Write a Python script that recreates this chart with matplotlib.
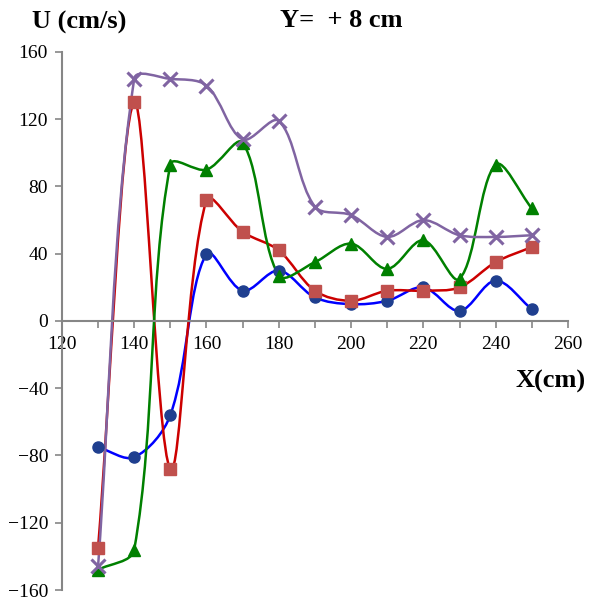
import numpy as np
import matplotlib
matplotlib.use("Agg")
import matplotlib.pyplot as plt
from matplotlib.path import Path
from matplotlib.patches import PathPatch

x = [130, 140, 150, 160, 170, 180, 190, 200, 210, 220, 230, 240, 250]
blue = [-75, -81, -56, 40, 18, 30, 14, 10, 12, 20, 6, 24, 7]
red = [-135, 130, -88, 72, 53, 42, 18, 12, 18, 18, 20, 35, 44]
green = [-148, -136, 93, 90, 106, 27, 35, 46, 31, 48, 25, 93, 67]
purple = [-146, 144, 144, 140, 108, 119, 68, 63, 50, 60, 51, 50, 51]

x_ticks = [120, 140, 160, 180, 200, 220, 240, 260]
y_ticks = [-160, -120, -80, -40, 0, 40, 80, 120, 160]

serif = ["Liberation Serif", "DejaVu Serif"]
plt.rcParams['font.family'] = serif

fig = plt.figure(figsize=(6.01, 6.01), dpi=100)
ax = fig.add_axes([0.103, 0.0183, 0.842, 0.8952])
ax.set_xlim(120, 260)
ax.set_ylim(-160, 160)

# pixel scale of the axes (so the smoothing behaves like a screen-space spline)
SX = 506.0 / 140.0
SY = 538.0 / 320.0


def smooth_path(xs, ys):
    pts = np.column_stack([np.asarray(xs, float) * SX, np.asarray(ys, float) * SY])
    n = len(pts)
    verts = [pts[0]]
    codes = [Path.MOVETO]
    ctrl_after = [None] * n
    ctrl_before = [None] * n
    for i in range(n):
        a = pts[i - 1] if i > 0 else pts[i]
        b = pts[i + 1] if i < n - 1 else pts[i]
        d_prev = np.hypot(*(pts[i] - a))
        d_next = np.hypot(*(b - pts[i]))
        tot = d_prev + d_next
        t = (b - a) / 3.0
        ctrl_after[i] = pts[i] + t * (d_next / tot if tot > 0 else 0)
        ctrl_before[i] = pts[i] - t * (d_prev / tot if tot > 0 else 0)
    for i in range(n - 1):
        verts += [ctrl_after[i], ctrl_before[i + 1], pts[i + 1]]
        codes += [Path.CURVE4] * 3
    v = np.array(verts)
    v[:, 0] /= SX
    v[:, 1] /= SY
    return Path(v, codes)


series = [
    (blue, '#0000FF', 'o', '#1F3F8F', 8, 1.0),
    (red, '#CC0000', 's', '#C0504D', 9, 1.0),
    (green, '#008000', '^', '#008000', 9, 1.0),
    (purple, '#8064A2', 'x', '#8064A2', 10, 2.2),
]
for ys, lc, m, mc, ms, mew in series:
    patch = PathPatch(smooth_path(x, ys), facecolor='none', edgecolor=lc, lw=1.8, zorder=2)
    ax.add_patch(patch)
    ax.plot(x, ys, linestyle='none', marker=m, color=mc, markersize=ms,
            markeredgewidth=mew, markeredgecolor=mc, zorder=3, clip_on=False)

for s in ['top', 'right']:
    ax.spines[s].set_visible(False)
ax.spines['bottom'].set_position(('data', 0))
ax.spines['left'].set_color('#868686')
ax.spines['bottom'].set_color('#868686')
ax.spines['left'].set_linewidth(1.5)
ax.spines['bottom'].set_linewidth(1.5)

ax.set_xticks(x_ticks)
ax.set_xticks(np.arange(120, 261, 10), minor=True)
ax.set_yticks(y_ticks)
ax.tick_params(axis='x', which='both', direction='out', length=5, width=1.2,
               color='#868686', labelsize=14, pad=6)
ax.tick_params(axis='y', which='major', direction='out', length=5, width=1.2,
               color='#868686', labelsize=14, pad=5)
for lab in ax.get_xticklabels() + ax.get_yticklabels():
    lab.set_family(serif)

fig.text(0.053, 0.962, 'U (cm/s)', fontsize=19, fontweight='bold', ha='left', va='center')
fig.text(0.568, 0.966, 'Y=  + 8 cm', fontsize=19, fontweight='bold', ha='center', va='center')
fig.text(0.975, 0.366, 'X(cm)', fontsize=19, fontweight='bold', ha='right', va='center')

fig.savefig('out.png', dpi=100)
